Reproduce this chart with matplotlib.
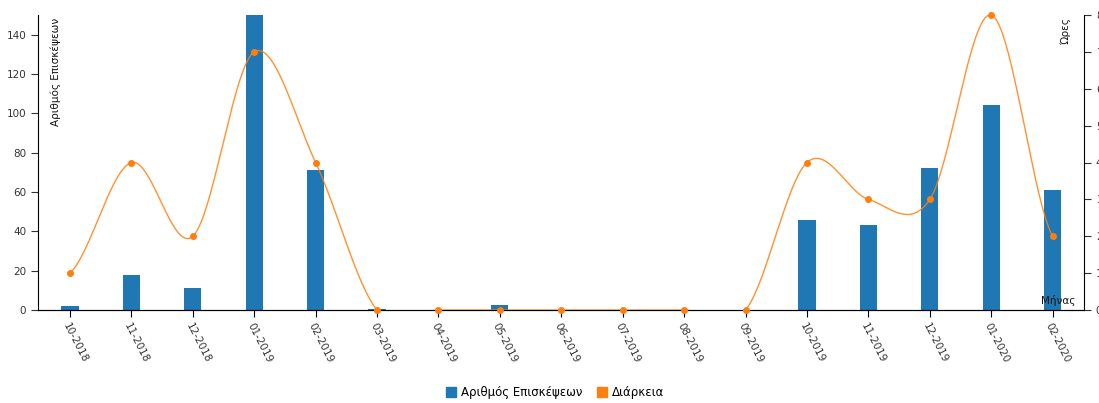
import numpy as np
import matplotlib
matplotlib.use("Agg")
import matplotlib.pyplot as plt
from matplotlib.patches import Patch

months = ["10-2018", "11-2018", "12-2018", "01-2019", "02-2019", "03-2019", "04-2019",
          "05-2019", "06-2019", "07-2019", "08-2019", "09-2019", "10-2019", "11-2019",
          "12-2019", "01-2020", "02-2020"]
visits = [2, 18, 11, 150, 71, 0.6, 0, 2.5, 0, 0, 0, 0, 46, 43, 72, 104, 61]
hours = [1, 4, 2, 7, 4, 0, 0, 0, 0, 0, 0, 0, 4, 3, 3, 8, 2]

bar_color = "#1f77b4"
line_color = "#ff7f0e"

plt.rcParams['font.family'] = ['DejaVu Sans']

fig = plt.figure(figsize=(10.99, 4.03), dpi=100)
ax = fig.add_axes([38/1099, 1-310/403, (1084-38)/1099, (310-15)/403])
x = np.arange(len(months))
ax.bar(x, visits, width=0.28, color=bar_color, zorder=2)
ax.set_xlim(-0.52, len(months) - 0.49)
ax.set_ylim(0, 150)
ax.set_yticks(range(0, 141, 20))
ax.set_xticks(x)
ax.set_xticklabels(months, rotation=-63, ha="left", va="top", rotation_mode="anchor",
                   fontsize=7.5, color="#333333")
ax.tick_params(axis="y", labelsize=7.5, length=5, colors="#333333")
ax.tick_params(axis="x", length=5, pad=3)
ax.spines["top"].set_visible(False)
ax.spines["right"].set_visible(False)

ax2 = ax.twinx()
ax2.set_ylim(0, 8)
ax2.set_yticks(range(0, 9))
ax2.tick_params(axis="y", labelsize=7.5, length=5, colors="#333333")
ax2.spines["top"].set_visible(False)
ax2.spines["left"].set_visible(False)

# Catmull-Rom (cardinal, tension 0) smooth curve through the points
y = np.array(hours, dtype=float)
n = len(y)
m = np.zeros(n)
m[1:-1] = (y[2:] - y[:-2]) / 2.0
m[0] = (y[1] - y[0]) / 2.0
m[-1] = (y[-1] - y[-2]) / 2.0
xs, ys = [], []
for i in range(n - 1):
    t = np.linspace(0, 1, 40)
    h00 = 2*t**3 - 3*t**2 + 1
    h10 = t**3 - 2*t**2 + t
    h01 = -2*t**3 + 3*t**2
    h11 = t**3 - t**2
    xs.extend(i + t)
    ys.extend(h00*y[i] + h10*m[i] + h01*y[i+1] + h11*m[i+1])
ax2.plot(xs, ys, color=line_color, lw=1.0, alpha=0.85, zorder=3, clip_on=True)
ax2.plot(x, hours, 'o', color=line_color, ms=4, zorder=4, clip_on=False)

ax.text(0.012, 0.99, "Αριθμός Επισκέψεων", transform=ax.transAxes, rotation=90,
        ha="left", va="top", fontsize=7.5, color="#111111")
ax.text(0.988, 0.99, "Ώρες", transform=ax.transAxes, rotation=90,
        ha="right", va="top", fontsize=7.5, color="#111111")
ax.text(0.992, 0.012, "Μήνας", transform=ax.transAxes,
        ha="right", va="bottom", fontsize=7.5, color="#111111")

handles = [Patch(color=bar_color, label="Αριθμός Επισκέψεων"),
           Patch(color=line_color, label="Διάρκεια")]
fig.legend(handles=handles, loc="center", bbox_to_anchor=(0.505, 0.025), ncol=2,
           frameon=False, fontsize=8.5, handlelength=0.9, handleheight=0.9,
           handletextpad=0.4, columnspacing=1.2)

fig.savefig("out.png", dpi=100)
